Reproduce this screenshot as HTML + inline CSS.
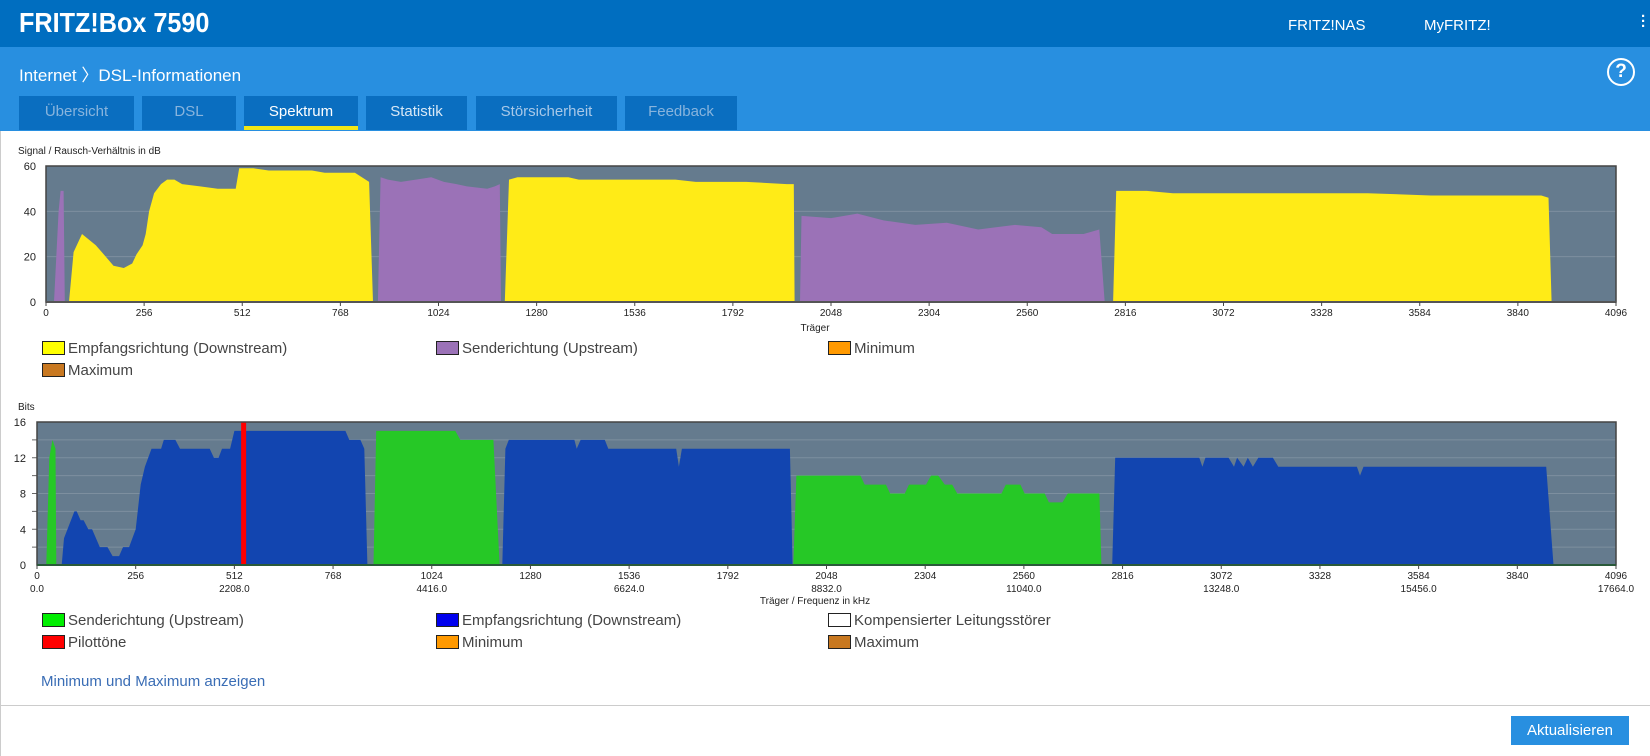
<!DOCTYPE html>
<html><head><meta charset="utf-8">
<style>
*{margin:0;padding:0;box-sizing:border-box}
body{width:1650px;height:756px;overflow:hidden;background:#fff;font-family:"Liberation Sans Narrow","Liberation Sans",sans-serif;position:relative}
.top{position:absolute;left:0;top:0;width:1650px;height:47px;background:#006ec0}
.brand{position:absolute;left:19px;top:7px;color:#fff;font-size:28px;font-weight:bold;transform:scaleX(0.9);transform-origin:left center}
.nav{position:absolute;top:17px;color:#fff;font-size:15px}
.band{position:absolute;left:0;top:47px;width:1650px;height:84px;background:#288fe0}
.crumb{position:absolute;left:19px;top:14px;color:#fff;font-size:17px}
.help{position:absolute;left:1607px;top:11px;width:28px;height:28px;border:2px solid #fff;border-radius:50%;color:#fff;font-weight:bold;font-size:19px;text-align:center;line-height:24px}
.tab{position:absolute;top:49px;height:34px;background:#0a6ec0;font-size:15px;text-align:center;line-height:32px;color:#88b4dd}
.tab.on{color:#fff;border-bottom:4px solid #f2e614}
.leg{position:absolute;font-size:15px;color:#444;white-space:nowrap}
.leg i{display:inline-block;width:23px;height:14px;border:1px solid #222;vertical-align:-2px;margin-right:3px}
.link{position:absolute;left:41px;top:673px;font-size:15px;color:#3a6db5}
.btn{position:absolute;left:1511px;top:716px;width:118px;height:29px;background:#288fe0;color:#fff;font-size:15px;text-align:center;line-height:29px}
</style></head><body>
<div class="top">
<div class="brand">FRITZ!Box 7590</div>
<div class="nav" style="left:1288px">FRITZ!NAS</div>
<div class="nav" style="left:1424px">MyFRITZ!</div>
<div class="nav" style="left:1641px;font-weight:bold;line-height:5px;top:14px">·<br>·<br>·</div>
</div>
<div class="band">
<div class="crumb">Internet 〉DSL-Informationen</div>
<div class="help">?</div>
<div class="tab" style="left:19px;width:115px">Übersicht</div>
<div class="tab" style="left:142px;width:94px">DSL</div>
<div class="tab on" style="left:244px;width:114px">Spektrum</div>
<div class="tab" style="left:366px;width:101px;color:#d8e8f6">Statistik</div>
<div class="tab" style="left:476px;width:141px;color:#a8c8e8">Störsicherheit</div>
<div class="tab" style="left:625px;width:112px">Feedback</div>
</div>
<div style="position:absolute;left:0;top:131px;width:1px;height:625px;background:#ccc"></div>

<svg id="chart" width="1650" height="756" style="position:absolute;left:0;top:0"></svg>

<div class="leg" style="left:42px;top:340px"><i style="background:#ffff00"></i>Empfangsrichtung (Downstream)</div>
<div class="leg" style="left:436px;top:340px"><i style="background:#9b72b7"></i>Senderichtung (Upstream)</div>
<div class="leg" style="left:828px;top:340px"><i style="background:#ff9900"></i>Minimum</div>
<div class="leg" style="left:42px;top:362px"><i style="background:#c87820"></i>Maximum</div>

<div class="leg" style="left:42px;top:612px"><i style="background:#00ee00"></i>Senderichtung (Upstream)</div>
<div class="leg" style="left:436px;top:612px"><i style="background:#0000ee"></i>Empfangsrichtung (Downstream)</div>
<div class="leg" style="left:828px;top:612px"><i style="background:#fff"></i>Kompensierter Leitungsstörer</div>
<div class="leg" style="left:42px;top:634px"><i style="background:#ff0000"></i>Pilottöne</div>
<div class="leg" style="left:436px;top:634px"><i style="background:#ff9900"></i>Minimum</div>
<div class="leg" style="left:828px;top:634px"><i style="background:#c87820"></i>Maximum</div>

<div class="link">Minimum und Maximum anzeigen</div>
<div style="position:absolute;left:0;top:705px;width:1650px;height:1px;background:#ccc"></div>
<div class="btn">Aktualisieren</div>

<script>
// ---- SNR chart data (carrier, dB)
const snrXTicks = [0,256,512,768,1024,1280,1536,1792,2048,2304,2560,2816,3072,3328,3584,3840,4096];
const snrYTicks = [0,20,40,60];
const snrUp1C = [21,33,38,46,49];
const snrUp1V = [0,40,49,49,0];
const snrDown1C = [60,72,94,130,156,176,203,225,236,252,260,269,282,300,316,335,355,402,448,495,504,541,581,694,727,806,843,853];
const snrDown1V = [0,22,30,25,20,16,15,17,21,25,30,40,48,52,54,54,52,51,50,50,59,59,58,58,57,57,53,0];
const snrUp2C = [866,873,892,926,965,1005,1038,1071,1098,1151,1171,1184,1187];
const snrUp2V = [0,55,54,53,54,55,53,52,51,50,51,52,0];
const snrDown2C = [1197,1208,1230,1363,1390,1642,1695,1827,1933,1951,1953];
const snrDown2V = [0,54,55,55,54,54,53,53,52,52,0];
const snrUp3C = [1967,1971,2048,2117,2185,2268,2350,2432,2528,2597,2625,2707,2748,2762];
const snrUp3V = [0,38,37,39,36,34,35,32,34,33,30,30,32,0];
const snrDown3C = [2784,2792,2872,2940,3448,3613,3901,3920,3928];
const snrDown3V = [0,49,49,48,48,47,47,46,0];
// ---- Bits chart data (carrier, bits)
const bitsXTicks = [0,256,512,768,1024,1280,1536,1792,2048,2304,2560,2816,3072,3328,3584,3840,4096];
const bitsFreqLabels = ["0.0","2208.0","4416.0","6624.0","8832.0","11040.0","13248.0","15456.0","17664.0"];
const bitsYTicks = [0,4,8,12,16];
const bitsUp1C = [24,32,40,48,50];
const bitsUp1V = [0,12,14,13,0];
const bitsDown1C = [64,70,97,103,113,121,133,143,163,183,196,213,223,239,256,269,280,297,322,329,359,371,448,459,471,480,501,512,800,810,839,849,857];
const bitsDown1V = [0,3,6,6,5,5,4,4,2,2,1,1,2,2,4,9,11,13,13,14,14,13,13,12,12,13,13,15,15,14,14,13,0];
const bitsUp2C = [873,880,1085,1098,1184,1200];
const bitsUp2V = [0,15,15,14,14,0];
const bitsDown2C = [1207,1215,1224,1394,1400,1410,1473,1482,1658,1665,1673,1953,1960];
const bitsDown2V = [0,13,14,14,13,14,14,13,13,11,13,13,0];
const bitsUp3C = [1962,1970,2136,2147,2202,2213,2251,2262,2306,2319,2338,2355,2374,2387,2502,2513,2551,2562,2614,2625,2660,2674,2756,2761];
const bitsUp3V = [0,10,10,9,9,8,8,9,9,10,10,9,9,8,8,9,9,8,8,7,7,8,8,0];
const bitsDown3C = [2789,2797,3015,3023,3031,3091,3105,3113,3130,3141,3154,3168,3206,3220,3424,3432,3441,3915,3934];
const bitsDown3V = [0,12,12,11,12,12,11,12,11,12,11,12,12,11,11,10,11,11,0];
const pilotCarriers = [536];

const svg = document.getElementById('chart');
const NS = 'http://www.w3.org/2000/svg';
function mk(tag, attrs, parent){const e=document.createElementNS(NS,tag);for(const k in attrs)e.setAttribute(k,attrs[k]);(parent||svg).appendChild(e);return e;}
function txt(x,y,s,size,anchor,parent){const t=mk('text',{x:x,y:y,'font-size':size,'text-anchor':anchor,fill:'#222','font-family':'Liberation Sans Narrow, Liberation Sans, sans-serif'},parent);t.textContent=s;return t;}

function axis(L,R,T,B,maxC,maxV){
  return {x:c=>L+(c/maxC)*(R-L), y:v=>B-(v/maxV)*(B-T)};
}
function area(ax, cs, vs, color, name){
  let d='M'+ax.x(cs[0])+','+ax.y(0);
  for(let i=0;i<cs.length;i++) d+=' L'+ax.x(cs[i]).toFixed(1)+','+ax.y(vs[i]).toFixed(1);
  d+=' L'+ax.x(cs[cs.length-1])+','+ax.y(0)+' Z';
  const p=mk('path',{d:d,fill:color});
  
  
}

// SNR chart
const A = axis(46,1616,166,302,4096,60);
const t1=txt(18,154,'Signal / Rausch-Verhältnis in dB',10,'start');


const bg1=mk('rect',{x:46,y:166,width:1570,height:136,fill:'#657b8e'});


snrYTicks.forEach(v=>{ if(v>0&&v<60) mk('line',{x1:46,x2:1616,y1:A.y(v),y2:A.y(v),stroke:'#7d8f9f','stroke-width':1});
  const t=txt(36,A.y(v)+4,String(v),11,'end');
  
  
});
area(A,snrUp1C,snrUp1V,'#9b72b7','snr-upstream-band-1');
area(A,snrDown1C,snrDown1V,'#ffeb17','snr-downstream-band-1');
area(A,snrUp2C,snrUp2V,'#9b72b7','snr-upstream-band-2');
area(A,snrDown2C,snrDown2V,'#ffeb17','snr-downstream-band-2');
area(A,snrUp3C,snrUp3V,'#9b72b7','snr-upstream-band-3');
area(A,snrDown3C,snrDown3V,'#ffeb17','snr-downstream-band-3');
mk('rect',{x:46,y:166,width:1570,height:136,fill:'none',stroke:'#444','stroke-width':1.5});
mk('line',{x1:46,x2:1616,y1:302,y2:302,stroke:'#555','stroke-width':2});
snrXTicks.forEach(c=>{mk('line',{x1:A.x(c),x2:A.x(c),y1:302,y2:306,stroke:'#444'});
  const t=txt(A.x(c),316,String(c),10,'middle');
  
  
});
const t2=txt(815,331,'Träger',10,'middle');



// Bits chart
const B = axis(37,1616,422,565,4096,16);
const t3=txt(18,410,'Bits',10,'start');


const bg2=mk('rect',{x:37,y:422,width:1579,height:143,fill:'#657b8e'});


for(let v=2;v<16;v+=2){ mk('line',{x1:37,x2:1616,y1:B.y(v),y2:B.y(v),stroke:'#7d8f9f','stroke-width':1}); mk('line',{x1:32,x2:37,y1:B.y(v),y2:B.y(v),stroke:'#666'}); }
bitsYTicks.forEach(v=>{const t=txt(26,B.y(v)+4,String(v),11,'end');
  
  
});
area(B,bitsUp1C,bitsUp1V,'#26c826','bits-upstream-band-1');
area(B,bitsDown1C,bitsDown1V,'#1245b0','bits-downstream-band-1');
area(B,bitsUp2C,bitsUp2V,'#26c826','bits-upstream-band-2');
area(B,bitsDown2C,bitsDown2V,'#1245b0','bits-downstream-band-2');
area(B,bitsUp3C,bitsUp3V,'#26c826','bits-upstream-band-3');
area(B,bitsDown3C,bitsDown3V,'#1245b0','bits-downstream-band-3');
pilotCarriers.forEach(c=>{const r=mk('rect',{x:B.x(c)-2.5,y:422,width:5,height:143,fill:'#ff0000'});
  
  
});
mk('rect',{x:37,y:422,width:1579,height:143,fill:'none',stroke:'#444','stroke-width':1.5});
mk('line',{x1:37,x2:1616,y1:565,y2:565,stroke:'#2a5a3a','stroke-width':2});
bitsXTicks.forEach((c,i)=>{mk('line',{x1:B.x(c),x2:B.x(c),y1:565,y2:569,stroke:'#444'});
  const t=txt(B.x(c),579,String(c),10,'middle');
  
  
  if(i%2===0){const f=txt(B.x(c),592,bitsFreqLabels[i/2],10,'middle');
    
    }
});
const t4=txt(815,604,'Träger / Frequenz in kHz',10,'middle');


</script>
</body></html>
